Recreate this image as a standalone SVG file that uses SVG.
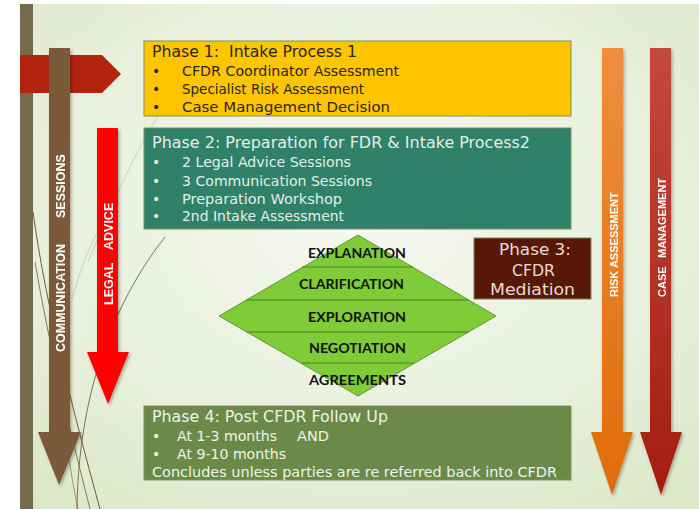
<svg xmlns="http://www.w3.org/2000/svg" width="699" height="509" viewBox="0 0 699 509">
  <defs>
    <radialGradient id="bg" cx="0.5" cy="0.42" r="0.75">
      <stop offset="0" stop-color="#f5f8f0"/>
      <stop offset="0.6" stop-color="#e9f0dc"/>
      <stop offset="1" stop-color="#dce7c6"/>
    </radialGradient>
    <linearGradient id="orange" x1="0" y1="0" x2="0" y2="1">
      <stop offset="0" stop-color="#ef8e40"/>
      <stop offset="1" stop-color="#df6c08"/>
    </linearGradient>
    <linearGradient id="crimson" x1="0" y1="0" x2="0" y2="1">
      <stop offset="0" stop-color="#c4483e"/>
      <stop offset="1" stop-color="#a41d0f"/>
    </linearGradient>
    <filter id="shadow" x="-20%" y="-5%" width="140%" height="115%">
      <feDropShadow dx="1.5" dy="2" stdDeviation="1.8" flood-color="#000" flood-opacity="0.3"/>
    </filter>
  </defs>
  <style>
    .box { stroke: #7f8f62; stroke-width: 1; }
    .body { font-family: "DejaVu Sans", "Liberation Sans", sans-serif; }
    .t1 { font-size: 15px; }
    .it { font-size: 14px; }
    .dark { fill: #2b2616; }
    .light2 { fill: #e4eee8; }
    .light4 { fill: #eef2e6; }
    .band { font-family: "Liberation Sans", Arial, sans-serif; font-weight: bold; fill: #ffffff; }
    .stage { font-family: Lato, "Liberation Sans", sans-serif; font-weight: bold; font-size: 14px; fill: #111111; text-anchor: middle; }
    .deco { fill: none; stroke: #6e5c3c; stroke-width: 1; }
    .decoLight { fill: none; stroke: #c9d2b4; stroke-width: 1; }
  </style>

  <!-- page and background -->
  <rect x="0" y="0" width="699" height="509" fill="#ffffff"/>
  <rect x="20" y="4" width="679" height="505" fill="url(#bg)"/>
  <rect x="20" y="4" width="13" height="505" fill="#776a4c"/>

  <!-- decorative grass strokes -->
  <g id="decoration">
    <path class="deco" d="M33,212 C45,300 70,400 100,509"/>
    <path class="deco" d="M35,262 C50,350 70,430 90,509" opacity="0.8"/>
    <path class="deco" d="M77,509 C78,420 100,320 165,237" opacity="0.85"/>
    <path class="deco" d="M67,440 C70,470 74,490 78,509" opacity="0.6"/>
    <path class="decoLight" d="M72,300 C80,270 88,250 97,233"/>
    <path class="decoLight" d="M88,262 C110,210 130,160 160,113"/>
  </g>

  <!-- left signpost -->
  <g id="signpost">
    <polygon points="20,55 102,55 121,74 102,93 20,93" fill="#b3240f"/>
  </g>

  <!-- vertical process bands -->
  <g id="communication-sessions" filter="url(#shadow)">
    <polygon points="49,48 70,48 70,432 81,432 59,485 38,432 49,432" fill="#7a5a38"/>
    <text class="band" font-size="12.5" transform="translate(65,352) rotate(-90)">COMMUNICATION<tspan x="134">SESSIONS</tspan></text>
  </g>

  <g id="legal-advice" filter="url(#shadow)">
    <polygon points="97,128 118,128 118,352 129,352 108,404 87,352 97,352" fill="#ff0000"/>
    <text class="band" font-size="12.5" transform="translate(113,305) rotate(-90)">LEGAL<tspan x="55">ADVICE</tspan></text>
  </g>

  <g id="risk-assessment" filter="url(#shadow)">
    <polygon points="602,48 623,48 623,432 633,432 612,495 591,432 602,432" fill="url(#orange)"/>
    <text class="band" font-size="11" transform="translate(618,297) rotate(-90)">RISK ASSESSMENT</text>
  </g>

  <g id="case-management" filter="url(#shadow)">
    <polygon points="650,48 671,48 671,432 682,432 661,495 640,432 650,432" fill="url(#crimson)"/>
    <text class="band" font-size="11" transform="translate(666,297) rotate(-90)">CASE<tspan x="39">MANAGEMENT</tspan></text>
  </g>

  <!-- Phase 1 -->
  <g id="phase1">
    <rect class="box" x="144" y="41" width="427" height="75" fill="#ffc600"/>
    <g class="body dark">
      <text class="t1" x="152" y="57" textLength="205" lengthAdjust="spacingAndGlyphs" xml:space="preserve">Phase 1:  Intake Process 1</text>
      <text class="it" x="152" y="76">•</text>
      <text class="it" x="182" y="76" textLength="217" lengthAdjust="spacingAndGlyphs">CFDR Coordinator Assessment</text>
      <text class="it" x="152" y="94">•</text>
      <text class="it" x="182" y="94" textLength="182" lengthAdjust="spacingAndGlyphs">Specialist Risk Assessment</text>
      <text class="it" x="152" y="112">•</text>
      <text class="it" x="182" y="112" textLength="208" lengthAdjust="spacingAndGlyphs">Case Management Decision</text>
    </g>
  </g>

  <!-- Phase 2 -->
  <g id="phase2">
    <rect class="box" x="144" y="128" width="427" height="101" fill="#2f816a"/>
    <g class="body light2">
      <text class="t1" x="152" y="148" textLength="378" lengthAdjust="spacingAndGlyphs">Phase 2: Preparation for FDR &amp; Intake Process2</text>
      <text class="it" x="152" y="167">•</text>
      <text class="it" x="182" y="167" textLength="169" lengthAdjust="spacingAndGlyphs">2 Legal Advice Sessions</text>
      <text class="it" x="152" y="185.5">•</text>
      <text class="it" x="182" y="185.5" textLength="190" lengthAdjust="spacingAndGlyphs">3 Communication Sessions</text>
      <text class="it" x="152" y="203.5">•</text>
      <text class="it" x="182" y="203.5" textLength="160" lengthAdjust="spacingAndGlyphs">Preparation Workshop</text>
      <text class="it" x="152" y="221">•</text>
      <text class="it" x="182" y="221" textLength="162" lengthAdjust="spacingAndGlyphs">2nd Intake Assessment</text>
    </g>
  </g>

  <!-- Phase 3 mediation stages -->
  <g id="mediation-stages">
    <polygon points="358,235 496,316 358,396 219,316" fill="#7fcb38" stroke="#5f9a2a" stroke-width="1"/>
    <g stroke="#4f7f28" stroke-width="1">
      <line x1="302" y1="267" x2="413" y2="267"/>
      <line x1="246" y1="300" x2="469" y2="300"/>
      <line x1="247" y1="332" x2="469" y2="332"/>
      <line x1="302" y1="363" x2="414" y2="363"/>
    </g>
    <text class="stage" x="357" y="258" textLength="98" lengthAdjust="spacingAndGlyphs">EXPLANATION</text>
    <text class="stage" x="351.5" y="289" textLength="105" lengthAdjust="spacingAndGlyphs">CLARIFICATION</text>
    <text class="stage" x="357" y="322" textLength="98" lengthAdjust="spacingAndGlyphs">EXPLORATION</text>
    <text class="stage" x="357.5" y="353" textLength="97" lengthAdjust="spacingAndGlyphs">NEGOTIATION</text>
    <text class="stage" x="357.5" y="385" textLength="97" lengthAdjust="spacingAndGlyphs">AGREEMENTS</text>
  </g>

  <g id="phase3">
    <rect x="474" y="238" width="117" height="61" fill="#581808" stroke="#857a52" stroke-width="1"/>
    <g class="body" font-size="16" fill="#e6dcd6" text-anchor="middle">
      <text x="535" y="255" textLength="72" lengthAdjust="spacingAndGlyphs">Phase 3:</text>
      <text x="533.5" y="276" textLength="43" lengthAdjust="spacingAndGlyphs">CFDR</text>
      <text x="532.5" y="295" textLength="85" lengthAdjust="spacingAndGlyphs">Mediation</text>
    </g>
  </g>

  <!-- Phase 4 -->
  <g id="phase4">
    <rect class="box" x="144" y="406" width="427" height="74" fill="#6b8a4a"/>
    <g class="body light4">
      <text class="t1" x="152" y="421.5" textLength="236" lengthAdjust="spacingAndGlyphs">Phase 4: Post CFDR Follow Up</text>
      <text class="it" x="152" y="440.5">•</text>
      <text class="it" x="177" y="440.5" textLength="100" lengthAdjust="spacingAndGlyphs">At 1-3 months</text>
      <text class="it" x="297" y="440.5" textLength="32" lengthAdjust="spacingAndGlyphs">AND</text>
      <text class="it" x="152" y="458.5">•</text>
      <text class="it" x="177" y="458.5" textLength="109" lengthAdjust="spacingAndGlyphs">At 9-10 months</text>
      <text class="it" x="152" y="476.5" textLength="405" lengthAdjust="spacingAndGlyphs">Concludes unless parties are re referred back into CFDR</text>
    </g>
  </g>

  <!-- connectors: the flow is carried by the banded arrows above -->
  <g id="connectors"></g>
</svg>
